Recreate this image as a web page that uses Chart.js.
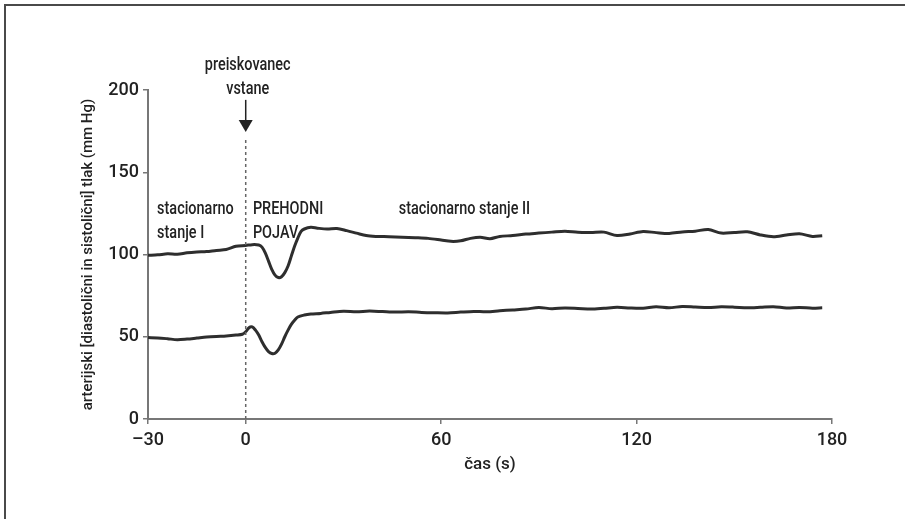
<!DOCTYPE html>
<html>
<head>
<meta charset="utf-8">
<script src="https://cdn.jsdelivr.net/npm/chart.js@4.4.1/dist/chart.umd.min.js"></script>
<style>
  html, body { margin: 0; padding: 0; background: #fff; }
  #wrap { position: relative; width: 905px; height: 519px; }
  #frame {
    position: absolute; left: 4px; top: 4px; right: 0; bottom: 0;
    border-top: 2px solid #4a4a4a; border-left: 2px solid #4a4a4a;
  }
  canvas { position: absolute; left: 0; top: 0; }
</style>
</head>
<body>
<div id="wrap">
  <div id="frame"></div>
  <canvas id="chart" width="905" height="519"></canvas>
</div>
<script>
// arterial pressure trace (time in s, pressure in mm Hg)
const systolicTime = [-30, -27, -24, -21, -18, -15, -12, -9, -6, -3, 0, 2, 4, 5, 6, 7, 8, 9, 10, 11, 12, 13, 14, 15, 16, 17, 18, 20, 22, 25, 28, 31, 34, 37, 40, 44, 48, 52, 56, 60, 63, 66, 69, 72, 75, 78, 82, 86, 90, 94, 98, 102, 106, 110, 114, 118, 122, 126, 130, 134, 138, 142, 146, 150, 154, 158, 162, 166, 170, 174, 177];
const systolicValues = [99.5, 99.8, 100.4, 100.2, 101, 101.5, 101.8, 102.5, 103, 105, 105.5, 106, 105.8, 104.5, 101, 96, 91, 87.5, 86, 86.5, 89, 93, 99, 105, 110, 114, 115.5, 116.5, 116, 115.5, 115.8, 114.5, 113, 111.5, 111, 110.8, 110.5, 110.2, 109.8, 108.8, 108, 108.3, 109.8, 110.5, 109.6, 111, 111.5, 112.4, 113, 113.6, 114.2, 113.5, 113.4, 113.6, 111.5, 112.5, 114, 113.3, 112.8, 113.7, 114.2, 115.2, 113, 113.4, 113.8, 111.9, 110.8, 111.8, 112.6, 111, 111.4];

const diastolicTime = [-30, -27, -24, -21, -18, -15, -12, -9, -6, -3, -1, 0, 1, 2, 3, 4, 5, 6, 7, 8, 9, 10, 11, 12, 13, 14, 15, 16, 18, 20, 23, 26, 30, 34, 38, 42, 46, 50, 54, 58, 62, 66, 70, 74, 78, 82, 86, 90, 94, 98, 102, 106, 110, 114, 118, 122, 126, 130, 134, 138, 142, 146, 150, 154, 158, 162, 166, 170, 174, 177];
const diastolicValues = [49.5, 49.3, 48.8, 48.2, 48.6, 49.2, 49.8, 50.2, 50.5, 51, 51.5, 53, 55.5, 56, 54, 51, 47, 43.5, 41, 39.8, 40, 42, 45.5, 50, 54, 57.5, 60, 62, 63.2, 63.8, 64.2, 64.8, 65.5, 65.2, 65.6, 65.3, 65, 65.2, 64.8, 64.6, 64.5, 65, 65.4, 65.2, 65.8, 66.3, 66.8, 67.8, 67, 67.5, 67.2, 66.8, 67.3, 67.9, 67.5, 67.4, 68.2, 67.6, 68.4, 68.1, 67.8, 68.2, 68, 67.6, 67.9, 68.3, 67.5, 67.8, 67.4, 67.6];

const xTicks = [-30, 0, 60, 120, 180];
const yTicks = [0, 50, 100, 150, 200];

const FONT = "Roboto, 'DejaVu Sans', sans-serif";
const INK = "#222";
const AXIS = "#777";

function toPoints(xs, ys) {
  return xs.map((x, i) => ({ x, y: ys[i] }));
}

// condensed-looking label: squeeze the glyphs horizontally around the anchor
function narrowText(ctx, text, x, y, align) {
  ctx.save();
  ctx.translate(x, y);
  ctx.scale(0.76, 1);
  ctx.textAlign = align;
  ctx.fillText(text, 0, 0);
  ctx.restore();
}

// text labels, marker line and arrow at t = 0
const annotations = {
  id: "annotations",
  afterDatasetsDraw(chart) {
    const { ctx } = chart;
    const x = chart.scales.x;
    const y = chart.scales.y;
    const x0 = x.getPixelForValue(0);

    ctx.save();

    // dotted line where the subject stands up
    ctx.strokeStyle = "#666";
    ctx.lineWidth = 1.5;
    ctx.setLineDash([3, 3]);
    ctx.beginPath();
    ctx.moveTo(x0, y.getPixelForValue(0));
    ctx.lineTo(x0, y.getPixelForValue(170));
    ctx.stroke();
    ctx.setLineDash([]);

    // arrow
    ctx.strokeStyle = INK;
    ctx.fillStyle = INK;
    ctx.lineWidth = 1.5;
    const aTop = y.getPixelForValue(194);
    const aTip = y.getPixelForValue(174.5);
    ctx.beginPath();
    ctx.moveTo(x0, aTop);
    ctx.lineTo(x0, aTip - 10);
    ctx.stroke();
    ctx.beginPath();
    ctx.moveTo(x0 - 7, aTip - 12);
    ctx.lineTo(x0 + 7, aTip - 12);
    ctx.lineTo(x0, aTip);
    ctx.closePath();
    ctx.fill();

    ctx.font = "500 19px " + FONT;
    ctx.textBaseline = "middle";

    narrowText(ctx, "preiskovanec", x0 + 2, y.getPixelForValue(215), "center");
    narrowText(ctx, "vstane", x0 + 2, y.getPixelForValue(200.6), "center");

    narrowText(ctx, "stacionarno", x.getPixelForValue(-27.2), y.getPixelForValue(127.7), "left");
    narrowText(ctx, "stanje I", x.getPixelForValue(-27.2), y.getPixelForValue(113), "left");
    narrowText(ctx, "PREHODNI", x.getPixelForValue(2.2), y.getPixelForValue(127.7), "left");
    narrowText(ctx, "POJAV", x.getPixelForValue(2.2), y.getPixelForValue(113), "left");
    narrowText(ctx, "stacionarno stanje II", x.getPixelForValue(47), y.getPixelForValue(127.7), "left");

    ctx.restore();
  },
};

const traceStyle = {
  showLine: true,
  pointRadius: 0,
  borderColor: "#2e2e2e",
  borderWidth: 3,
  tension: 0.3,
  fill: false,
};

new Chart(document.getElementById("chart").getContext("2d"), {
  type: "scatter",
  data: {
    datasets: [
      { label: "sistolični", data: toPoints(systolicTime, systolicValues), ...traceStyle },
      { label: "diastolični", data: toPoints(diastolicTime, diastolicValues), ...traceStyle },
    ],
  },
  options: {
    responsive: false,
    animation: false,
    layout: { padding: { left: 79, top: 90, right: 73, bottom: 44 } },
    plugins: {
      legend: { display: false },
      tooltip: { enabled: false },
    },
    scales: {
      x: {
        type: "linear",
        min: -30,
        max: 180,
        afterBuildTicks: (scale) => { scale.ticks = xTicks.map((v) => ({ value: v })); },
        afterFit: (scale) => { scale.height = 56; },
        border: { display: true, color: AXIS, width: 2 },
        grid: { drawOnChartArea: false, drawTicks: true, tickLength: 5, color: AXIS, lineWidth: 1.5 },
        ticks: {
          color: INK,
          font: { family: FONT, size: 18, weight: "500" },
          padding: 6,
          maxRotation: 0,
          callback: (v) => (v < 0 ? "\u2013" + Math.abs(v) : String(v)),
        },
        title: {
          display: true,
          text: "čas (s)",
          color: INK,
          font: { family: FONT, size: 17, weight: "500" },
          padding: 0,
        },
      },
      y: {
        min: 0,
        max: 200,
        afterBuildTicks: (scale) => { scale.ticks = yTicks.map((v) => ({ value: v })); },
        afterFit: (scale) => { scale.width = 69; },
        border: { display: true, color: AXIS, width: 2 },
        grid: { drawOnChartArea: false, drawTicks: true, tickLength: 5, color: AXIS, lineWidth: 1.5 },
        ticks: {
          color: INK,
          font: { family: FONT, size: 18, weight: "500" },
          padding: 4,
        },
        title: {
          display: true,
          text: "arterijski [diastolični in sistolični] tlak (mm Hg)",
          color: INK,
          font: { family: FONT, size: 15, weight: "500" },
          padding: 0,
        },
      },
    },
  },
  plugins: [annotations],
});
</script>
</body>
</html>
